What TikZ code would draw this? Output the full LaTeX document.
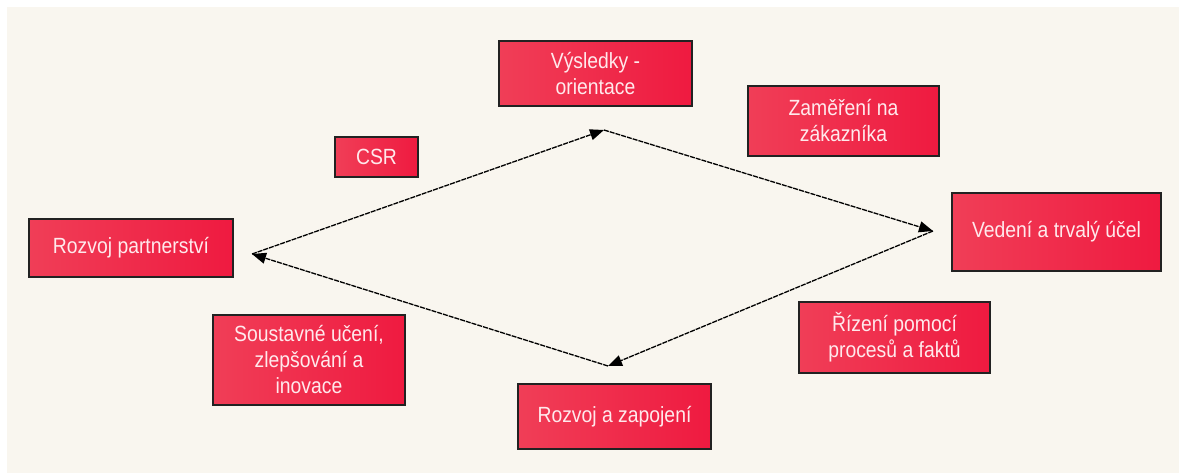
\documentclass[tikz,border=0pt]{standalone}
\usepackage{fontspec}
\setmainfont{Liberation Sans}[FakeStretch=0.88]
\usetikzlibrary{arrows.meta}
\definecolor{bg}{HTML}{F9F6EF}
\definecolor{boxl}{HTML}{F03E57}
\definecolor{boxr}{HTML}{EF1A40}
\definecolor{txt}{HTML}{FFE9EC}
\definecolor{edge}{HTML}{222222}
\tikzset{
  box/.style={draw=edge, line width=1.4pt, left color=boxl, right color=boxr,
    text=txt, font=\fontsize{22}{26}\selectfont, align=center,
    inner sep=0pt, anchor=center},
  link/.style={draw=black, line width=1.3pt, dash pattern=on 5pt off 1pt,
    -{Triangle[length=14pt,width=11pt]}}
}
\begin{document}
\begin{tikzpicture}[x=1pt,y=-1pt]
\useasboundingbox (0,0) rectangle (1179,473);
\fill[bg] (7,7) rectangle (1179,473);
\node[box, minimum width=193pt, minimum height=65pt] (vys) at (595.5,73.5) {Výsledky -\\orientace};
\node[box, minimum width=191pt, minimum height=70pt] (zam) at (843.5,121) {Zaměření na\\zákazníka};
\node[box, minimum width=83pt, minimum height=40pt] (csr) at (376.5,157) {CSR};
\node[box, minimum width=204pt, minimum height=58pt] (rp) at (131,248) {Rozvoj partnerství};
\node[box, minimum width=209pt, minimum height=78pt] (ved) at (1056.5,232) {Vedení a trvalý účel};
\node[box, minimum width=191pt, minimum height=71pt] (riz) at (894.5,337.5) {Řízení pomocí\\procesů a faktů};
\node[box, minimum width=192pt, minimum height=90pt] (sou) at (309,360) {Soustavné učení,\\zlepšování a\\inovace};
\node[box, minimum width=193pt, minimum height=65pt] (rz) at (614.5,416.5) {Rozvoj a zapojení};
\coordinate (L) at (252,254);
\coordinate (T) at (604,130);
\coordinate (R) at (933,231);
\coordinate (B) at (608,366);
\draw[link] (L) -- (T);
\draw[link] (T) -- (R);
\draw[link] (R) -- (B);
\draw[link] (B) -- (L);
\end{tikzpicture}
\end{document}
